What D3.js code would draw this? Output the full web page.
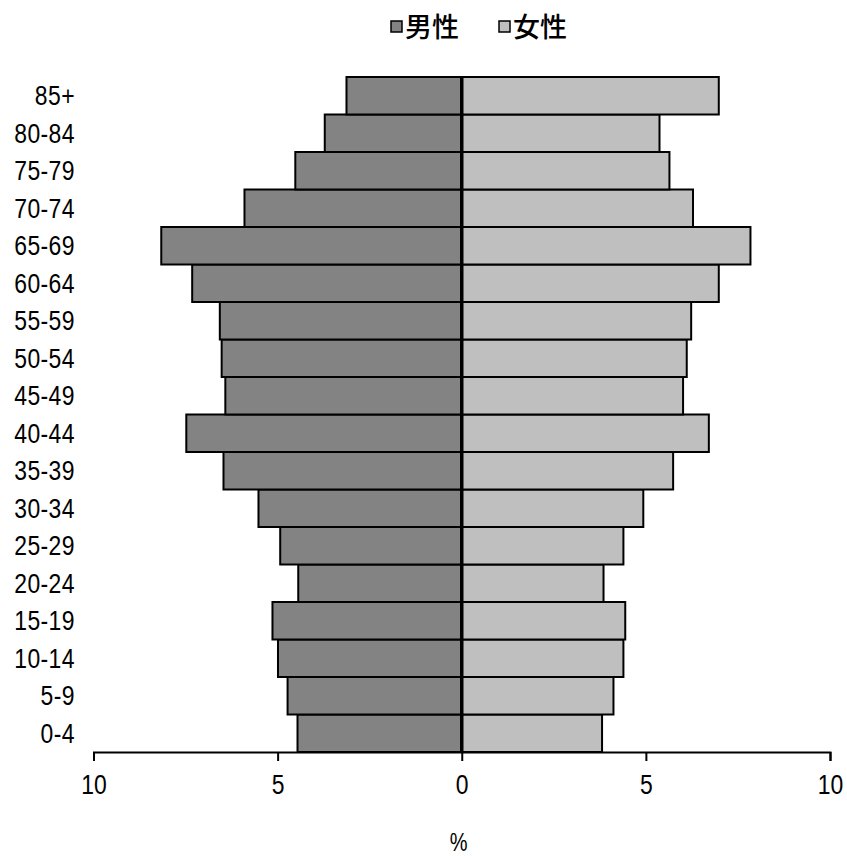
<!DOCTYPE html>
<html>
<head>
<meta charset="utf-8">
<script src="https://cdn.jsdelivr.net/npm/d3@7"></script>
<style>
  html, body { margin: 0; padding: 0; background: #fff; }
  svg { display: block; }
  .lab { font-family: "Liberation Sans", "DejaVu Sans", sans-serif; }
  .cjk { font-family: "Noto Sans CJK JP", "Noto Sans CJK SC", sans-serif; }
</style>
</head>
<body>
<script>
// Data (percent of population by age group)
const ageGroups = ["0-4","5-9","10-14","15-19","20-24","25-29","30-34","35-39","40-44",
                   "45-49","50-54","55-59","60-64","65-69","70-74","75-79","80-84","85+"];
const maleValues   = [4.46, 4.73, 4.99, 5.14, 4.44, 4.93, 5.52, 6.47, 7.48,
                      6.42, 6.52, 6.57, 7.32, 8.16, 5.90, 4.52, 3.72, 3.13];
const femaleValues = [3.81, 4.12, 4.39, 4.44, 3.85, 4.39, 4.93, 5.74, 6.71,
                      6.01, 6.11, 6.23, 6.98, 7.84, 6.28, 5.64, 5.37, 6.98];
const tickValues = [-10, -5, 0, 5, 10];
const seriesNames = ["男性", "女性"];
const axisTitle = "%";

const W = 847, H = 856;
const maleColor = "#838383", femaleColor = "#bfbfbf";

const svg = d3.select("body").append("svg").attr("width", W).attr("height", H);

const x = d3.scaleLinear().domain([-10, 10]).range([93.5, 830]);
const y = d3.scaleBand().domain(ageGroups.slice().reverse()).range([77, 752]).padding(0);

// bars
const rows = ageGroups.map((g, i) => ({ g, m: maleValues[i], f: femaleValues[i] }));

svg.append("g").selectAll("rect").data(rows).join("rect")
  .attr("x", d => x(-d.m)).attr("y", d => y(d.g))
  .attr("width", d => x(0) - x(-d.m)).attr("height", y.bandwidth())
  .attr("fill", maleColor).attr("stroke", "#000").attr("stroke-width", 2);

svg.append("g").selectAll("rect").data(rows).join("rect")
  .attr("x", x(0)).attr("y", d => y(d.g))
  .attr("width", d => x(d.f) - x(0)).attr("height", y.bandwidth())
  .attr("fill", femaleColor).attr("stroke", "#000").attr("stroke-width", 2);

// center line
svg.append("line")
  .attr("x1", x(0)).attr("x2", x(0)).attr("y1", 77).attr("y2", 752)
  .attr("stroke", "#000").attr("stroke-width", 3.5);

// x axis
const xAxis = svg.append("g").attr("transform", "translate(0,752)")
  .call(d3.axisBottom(x).tickValues(tickValues).tickFormat(d => Math.abs(d)).tickSize(9));
xAxis.select(".domain").attr("stroke", "#000").attr("stroke-width", 2);
xAxis.selectAll(".tick line").attr("stroke", "#000").attr("stroke-width", 2);
xAxis.selectAll(".tick text").attr("class", "lab").attr("font-size", 27).attr("fill", "#000")
  .attr("y", 0).attr("dy", 0)
  .attr("transform", "translate(0,42) scale(0.85,1)");

// y labels
svg.append("g").selectAll("text").data(ageGroups).join("text")
  .attr("class", "lab")
  .attr("transform", d => `translate(75,${y(d) + y.bandwidth() / 2}) scale(0.85,1)`)
  .attr("dy", "0.36em").attr("text-anchor", "end")
  .attr("font-size", 27).attr("letter-spacing", 0.5).attr("fill", "#000")
  .text(d => d);

// axis title
svg.append("text").attr("class", "lab")
  .attr("transform", `translate(${x(0) - 3},851) scale(0.8,1)`).attr("text-anchor", "middle")
  .attr("font-size", 25).attr("fill", "#000").text(axisTitle);

// legend
const legend = [
  { name: seriesNames[0], color: maleColor, sx: 391, tx: 405 },
  { name: seriesNames[1], color: femaleColor, sx: 499, tx: 513 }
];
const lg = svg.append("g");
legend.forEach(l => {
  lg.append("rect").attr("x", l.sx).attr("y", 21).attr("width", 11).attr("height", 11)
    .attr("fill", l.color).attr("stroke", "#000").attr("stroke-width", 1.5);
  lg.append("text").attr("class", "cjk").attr("x", l.tx).attr("y", 37)
    .attr("font-size", 27).attr("font-weight", 500).attr("fill", "#000").text(l.name);
});
</script>
</body>
</html>
